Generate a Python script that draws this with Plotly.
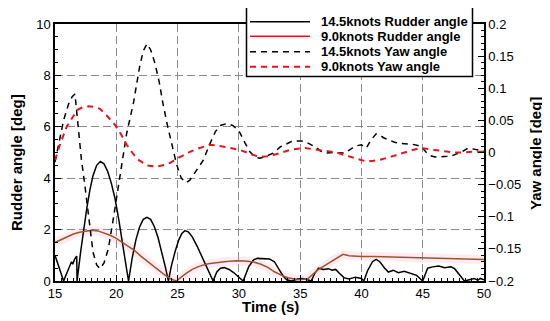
import plotly.graph_objects as go

# ---------------- data ----------------
t_rud14 = [15.0, 15.35, 15.7, 16.0, 16.35, 16.45, 16.6, 16.77, 16.8,
           17.1, 17.35, 17.6, 17.85, 18.1, 18.4, 18.7, 19.0, 19.3, 19.6, 19.9, 20.2, 20.5, 20.75, 21.0,
           21.3, 21.6, 21.9, 22.2, 22.5, 22.8, 23.1, 23.4, 23.7, 24.0, 24.25,
           24.5, 24.8, 25.1, 25.35, 25.6, 25.9, 26.2, 26.6, 27.0, 27.4, 27.9,
           28.2, 28.5, 28.8, 29.2, 29.6, 30.0, 30.35,
           30.8, 31.2, 31.5, 32.0, 32.5, 32.9, 33.3, 33.6, 33.9, 34.3, 34.8, 35.2, 35.6, 35.9,
           36.2, 36.5, 36.9, 37.3, 37.6, 37.9, 38.2, 38.6, 39.0, 39.5, 40.0, 40.2,
           40.5, 40.9, 41.2, 41.5, 41.9, 42.2, 42.6, 43.0, 43.5, 44.0, 44.5, 45.0,
           45.4, 45.8, 46.3, 46.8, 47.3, 47.6, 48.0, 48.4, 48.8, 49.2, 49.5, 49.7, 50.0]
rud14 = [1.00, 0.50, 0.0, 0.35, 0.75, 0.65, 0.85, 0.97, 0.0,
         1.16, 2.05, 2.85, 3.55, 4.10, 4.50, 4.65, 4.56, 4.26, 3.80, 3.20, 2.40, 1.57, 0.73, 0.0,
         0.90, 1.60, 2.10, 2.40, 2.48, 2.40, 2.12, 1.70, 1.15, 0.55, 0.0,
         0.60, 1.15, 1.60, 1.85, 1.96, 1.90, 1.72, 1.35, 0.95, 0.50, 0.0,
         0.35, 0.50, 0.52, 0.45, 0.32, 0.15, 0.0,
         0.55, 0.82, 0.88, 0.88, 0.86, 0.75, 0.45, 0.20, 0.05, 0.0, 0.08, 0.10, 0.05, 0.0,
         0.30, 0.50, 0.45, 0.48, 0.42, 0.45, 0.30, 0.12, 0.08, 0.15, 0.10, 0.0,
         0.40, 0.75, 0.84, 0.75, 0.50, 0.35, 0.42, 0.32, 0.38, 0.30, 0.22, 0.0,
         0.50, 0.55, 0.58, 0.52, 0.55, 0.48, 0.25, 0.0, 0.05, 0.10, 0.03, 0.10, 0.05]

t_rud9 = [15.0, 15.5, 16.0, 16.5, 17.0, 17.5, 18.0, 18.5, 19.0, 19.5, 20.0, 20.5, 21.0, 21.5,
          22.0, 22.5, 23.0, 23.5, 24.0, 24.5, 24.9, 25.3, 25.7, 26.2, 26.8, 27.5, 28.2, 29.0,
          29.8, 30.5, 31.2, 31.8, 32.4, 32.9, 33.5, 34.0, 34.8, 35.6, 36.0, 36.5, 37.0, 37.5,
          38.0, 38.5, 39.0, 40.0, 41.0, 42.0, 43.0, 44.0, 45.0, 46.0, 47.0, 48.0, 49.0, 50.0]
rud9 = [1.50, 1.62, 1.73, 1.83, 1.90, 1.95, 1.97, 1.95, 1.88, 1.78, 1.66, 1.50, 1.33, 1.18,
        0.97, 0.78, 0.60, 0.42, 0.22, 0.07, 0.0, 0.15, 0.30, 0.45, 0.58, 0.67, 0.72, 0.76,
        0.79, 0.78, 0.74, 0.65, 0.52, 0.36, 0.22, 0.13, 0.05, 0.08, 0.25, 0.45, 0.60, 0.75,
        0.90, 1.04, 0.98, 0.95, 0.95, 0.94, 0.93, 0.92, 0.91, 0.89, 0.88, 0.87, 0.85, 0.84]

t_yaw14 = [15.0, 15.3, 15.7, 16.1, 16.4, 16.63, 16.9, 17.15, 17.45, 17.8, 18.1, 18.4, 18.67,
           19.0, 19.35, 19.7, 20.0, 20.45, 20.85, 21.4, 21.9, 22.2, 22.5, 22.8, 23.15, 23.5,
           23.8, 24.2, 24.5, 24.9, 25.3, 25.7, 26.0, 26.5, 27.1, 27.6, 28.1, 28.5, 29.0, 29.5,
           30.0, 30.5, 30.9, 31.3, 31.7, 32.2, 32.8, 33.4, 33.9, 34.3, 34.7, 35.1, 35.5, 35.9,
           36.3, 36.7, 37.1, 37.7, 38.2, 38.65, 39.1, 39.5, 40.0, 40.4, 40.8, 41.2, 41.5, 41.8,
           42.3, 42.7, 43.3, 44.1, 44.6, 44.9, 45.3, 45.6, 46.0, 46.5, 47.0, 47.4, 47.8, 48.2,
           48.7, 49.0, 49.3, 50.0]
yaw14 = [-0.015, 0.015, 0.050, 0.075, 0.087, 0.091, 0.035, -0.010, -0.053, -0.110, -0.155, -0.175, -0.181,
         -0.172, -0.150, -0.110, -0.074, -0.020, 0.030, 0.077, 0.133, 0.158, 0.169, 0.160, 0.139, 0.110,
         0.077, 0.040, 0.014, -0.017, -0.040, -0.047, -0.043, -0.028, -0.012, 0.012, 0.033, 0.042, 0.045, 0.042,
         0.034, 0.015, 0.001, -0.007, -0.009, -0.006, -0.001, 0.009, 0.014, 0.017, 0.018, 0.018, 0.016, 0.012,
         0.008, 0.002, -0.001, 0.000, 0.000, -0.001, 0.005, 0.010, 0.012, 0.007, 0.020, 0.029, 0.027, 0.023,
         0.019, 0.016, 0.014, 0.013, 0.011, 0.009, 0.000, -0.005, -0.007, -0.007, -0.006, -0.005, -0.002, 0.001,
         0.007, 0.006, 0.004, 0.002]

t_yaw9 = [15.0, 15.4, 15.95, 16.4, 16.8, 17.2, 17.7, 18.2, 18.67, 19.2, 19.9, 20.4, 20.85, 21.3,
          21.7, 22.5, 23.3, 24.0, 24.4, 24.9, 25.45, 26.0, 26.8, 27.6, 28.2, 28.7, 29.4, 30.1,
          30.9, 31.7, 32.3, 32.8, 33.5, 34.2, 34.8, 35.4, 36.1, 36.9, 37.5, 38.0, 38.6, 39.2,
          39.8, 40.4, 41.0, 41.6, 42.5, 43.3, 44.0, 44.8, 45.4, 46.0, 46.8, 47.6, 48.3, 49.0, 50.0]
yaw9 = [-0.012, 0.012, 0.040, 0.055, 0.066, 0.070, 0.072, 0.071, 0.068, 0.058, 0.043, 0.028, 0.012, 0.000,
        -0.010, -0.020, -0.022, -0.019, -0.016, -0.010, -0.004, 0.001, 0.007, 0.012, 0.011, 0.009, 0.006, 0.004,
        -0.002, -0.007, -0.006, -0.004, 0.000, 0.004, 0.006, 0.007, 0.005, 0.003, 0.001, 0.000, -0.004, -0.007,
        -0.011, -0.014, -0.013, -0.011, -0.006, -0.001, 0.003, 0.007, 0.006, 0.004, 0.002, 0.000, 0.000, 0.001, 0.001]

names = ["14.5knots Rudder angle", "9.0knots Rudder angle",
         "14.5knots Yaw angle", "9.0knots Yaw angle"]

BROWN = "#9a5530"
RED = "#e8141c"
DASH = "6px,5px"

fig = go.Figure()
# faint pink halo behind 9.0 knots rudder line
fig.add_trace(go.Scatter(x=t_rud9, y=rud9, mode="lines", showlegend=False, hoverinfo="skip",
                         line=dict(color="rgba(255,150,185,0.18)", width=9)))
fig.add_trace(go.Scatter(x=t_rud14, y=rud14, mode="lines", name=names[0], showlegend=False,
                         line=dict(color="black", width=1.5)))
fig.add_trace(go.Scatter(x=t_rud9, y=rud9, mode="lines", name=names[1], showlegend=False,
                         line=dict(color=BROWN, width=1.5)))
fig.add_trace(go.Scatter(x=t_yaw14, y=yaw14, mode="lines", name=names[2], yaxis="y2", showlegend=False,
                         line=dict(color="black", width=1.5, dash=DASH)))
fig.add_trace(go.Scatter(x=t_yaw9, y=yaw9, mode="lines", name=names[3], yaxis="y2", showlegend=False,
                         line=dict(color=RED, width=2, dash=DASH)))

FONT = "Liberation Sans, Arial, sans-serif"
grid = dict(showgrid=True, gridcolor="#8a8a8a", griddash="8px,4px", gridwidth=1)

# The page body has an 8px default margin, so the figure is drawn 8px smaller
# and every reference pixel position is shifted by OFF.
OFF = 8
W, H = 550 - OFF, 321 - OFF
L, R, T, B = 55 - OFF, 484 - OFF, 24 - OFF, 281 - OFF
def px(x): return (x - OFF - L) / (R - L)
def py(y): return (B - (y - OFF)) / (B - T)

shapes = [dict(type="rect", xref="paper", yref="paper",
               x0=px(246.5), x1=px(472.5), y0=py(5), y1=py(76.5),
               fillcolor="white", line=dict(color="black", width=1.5), layer="above")]
annotations = []
leg_styles = [("black", "solid", 1.5), (RED, "solid", 1.5), ("black", DASH, 1.5), (RED, DASH, 2)]
rows = [21.7, 36.3, 51.7, 66.7]
for name, (col, dsh, w), ry in zip(names, leg_styles, rows):
    shapes.append(dict(type="line", xref="paper", yref="paper", x0=px(250), x1=px(310),
                       y0=py(ry), y1=py(ry), line=dict(color=col, width=w, dash=dsh), layer="above"))
    annotations.append(dict(text="<b>" + name + "</b>", x=px(319), y=py(ry), xref="paper", yref="paper",
                            showarrow=False, xanchor="left", yanchor="middle",
                            font=dict(family=FONT, size=13, color="black")))

annotations += [
    dict(text="<b>Time (s)</b>", x=px(270), y=py(306.5), xref="paper", yref="paper",
         showarrow=False, font=dict(size=15), xanchor="center", yanchor="middle"),
    dict(text="<b>Rudder angle [deg]</b>", x=px(16), y=py(163), xref="paper", yref="paper",
         showarrow=False, font=dict(size=15), textangle=-90, xanchor="center", yanchor="middle"),
    dict(text="<b>Yaw angle [deg]</b>", x=px(535), y=py(154), xref="paper", yref="paper",
         showarrow=False, font=dict(size=15), textangle=-90, xanchor="center", yanchor="middle"),
]

fig.update_layout(
    width=W, height=H,
    margin=dict(l=L, r=W - R, t=T, b=H - B, autoexpand=False),
    paper_bgcolor="white", plot_bgcolor="white",
    font=dict(family=FONT, size=13, color="black"),
    showlegend=False,
    xaxis=dict(range=[15, 50], tickvals=[15, 20, 25, 30, 35, 40, 45, 50], automargin=False,
               showline=True, linecolor="black", linewidth=1.5, mirror=True,
               ticks="inside", ticklen=6, tickcolor="black",
               minor=dict(dtick=0.5, ticks="inside", ticklen=3, tickcolor="black", showgrid=False),
               zeroline=False, **grid),
    yaxis=dict(range=[0, 10], tickvals=[0, 2, 4, 6, 8, 10], automargin=False,
               showline=True, linecolor="black", linewidth=1.5,
               ticks="inside", ticklen=6, tickcolor="black",
               minor=dict(dtick=0.5, ticks="inside", ticklen=3, tickcolor="black", showgrid=False),
               zeroline=False, **grid),
    yaxis2=dict(range=[-0.2, 0.2], tickvals=[-0.2, -0.15, -0.1, -0.05, 0, 0.05, 0.1, 0.15, 0.2],
                overlaying="y", side="right", showgrid=False, zeroline=False, automargin=False,
                showline=True, linecolor="black", linewidth=1.5,
                ticks="inside", ticklen=6, tickcolor="black",
                minor=dict(dtick=0.01, ticks="inside", ticklen=3, tickcolor="black", showgrid=False)),
    shapes=shapes,
    annotations=annotations,
)

fig.write_html("out.html")
